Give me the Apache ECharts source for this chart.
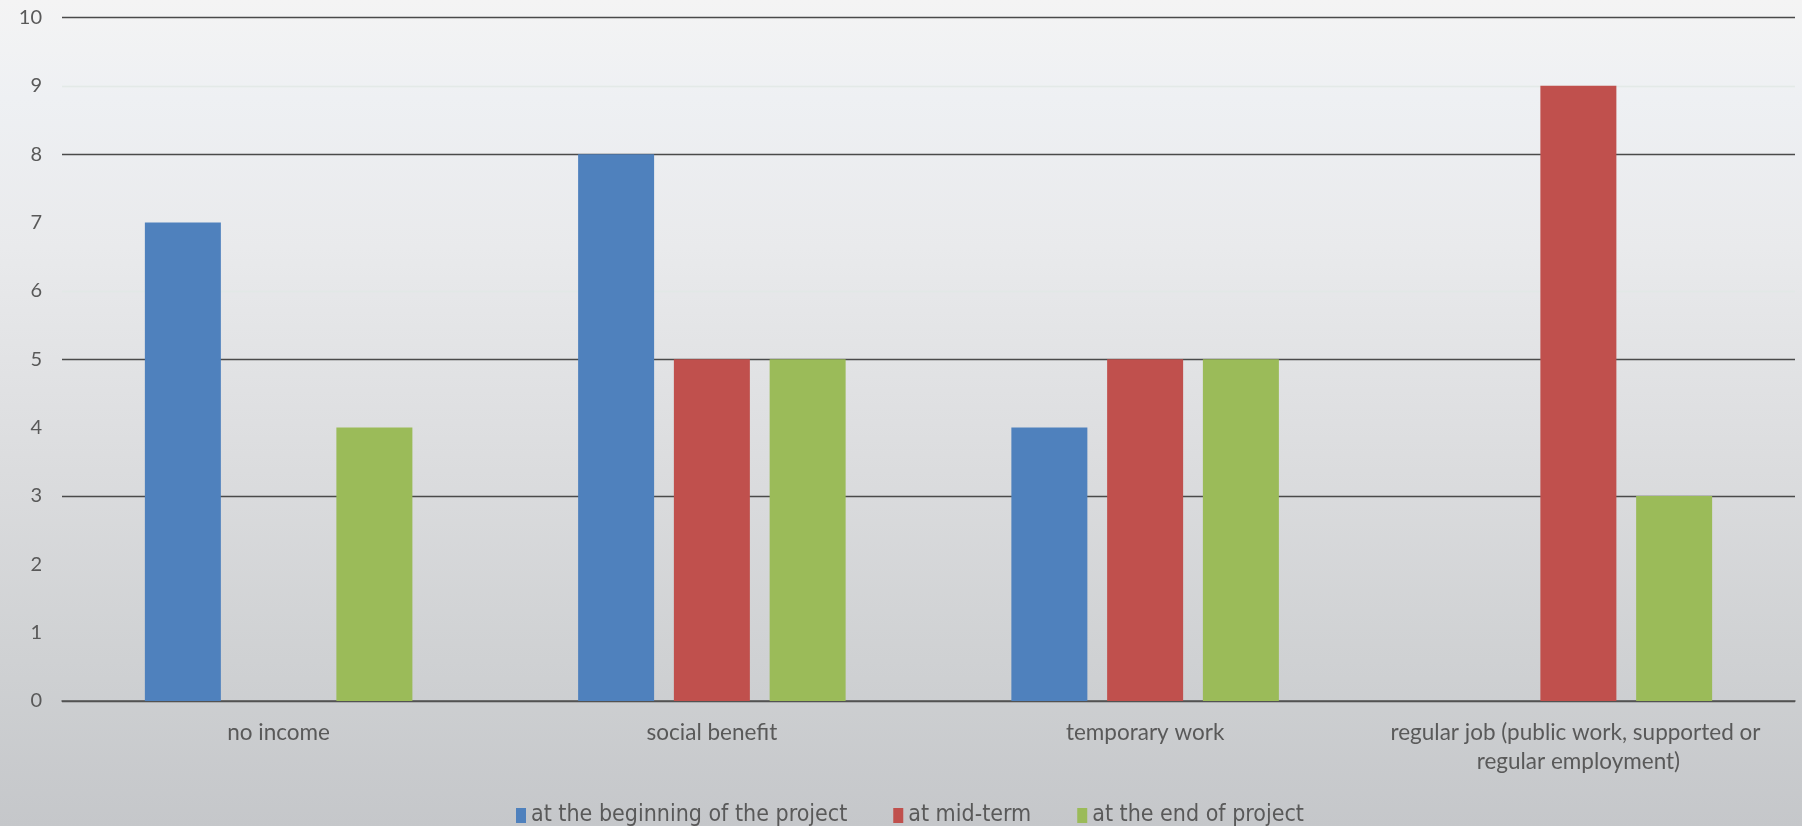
<!DOCTYPE html>
<html>
<head>
<meta charset="utf-8">
<style>
html,body{margin:0;padding:0;background:#e6e7e9;}
#chart{width:1802px;height:826px;}
</style>
<script src="https://cdn.jsdelivr.net/npm/echarts@6/dist/echarts.min.js"></script>
</head>
<body>
<div id="chart"></div>
<script>
const categories = ['no income', 'social benefit', 'temporary work', 'regular job (public work, supported or regular employment)'];
const seriesNames = ['at the beginning of the project', 'at mid-term', 'at the end of project'];
const beginning = [7, 8, 4, null];
const midTerm = [null, 5, 5, 9];
const endOfProject = [4, 5, 5, 3];
const yTicks = [0, 1, 2, 3, 4, 5, 6, 7, 8, 9, 10];

const colors = ['#4F81BD', '#C0504D', '#9BBB59'];
const dark = '#4a4a4a', faint = 'rgba(225,232,230,0.9)', none = 'rgba(0,0,0,0)';
// per-gridline appearance as seen in the reference (index = tick value)
const gridColors = [dark, none, none, dark, none, dark, faint, none, dark, faint, dark];

const chart = echarts.init(document.getElementById('chart'));
const font = 'Lato, "Open Sans", sans-serif';
chart.setOption({
  backgroundColor: {
    type: 'linear', x: 0, y: 0, x2: 0, y2: 1,
    colorStops: [
      {offset: 0, color: '#f4f4f4'},
      {offset: 0.12, color: '#eef0f3'},
      {offset: 0.3, color: '#e9eaec'},
      {offset: 0.55, color: '#dcdddf'},
      {offset: 0.8, color: '#cfd1d3'},
      {offset: 1, color: '#c5c7ca'}
    ]
  },
  animation: false,
  color: colors,
  grid: {left: 62, right: 7, top: 17.5, bottom: 125, containLabel: false},
  legend: {
    data: seriesNames,
    left: 511, top: 799,
    itemWidth: 10, itemHeight: 15, itemGap: 46,
    icon: 'rect',
    textStyle: {color: '#595959', fontSize: 23, fontFamily: '"Liberation Sans Narrow", "DejaVu Sans Condensed", sans-serif'}
  },
  xAxis: {
    type: 'category',
    data: categories,
    axisLine: {lineStyle: {color: '#555', width: 1.5}},
    axisTick: {show: false},
    axisLabel: {
      color: '#595959', fontSize: 22.5, fontFamily: font, margin: 17,
      lineHeight: 29, width: 410, overflow: 'break', interval: 0
    }
  },
  yAxis: {
    type: 'value',
    min: 0, max: 10, interval: 1,
    axisLine: {show: false},
    axisTick: {show: false},
    axisLabel: {color: '#595959', fontSize: 20, fontFamily: font, margin: 20,
      formatter: v => yTicks.includes(v) ? String(v) : ''},
    splitLine: {lineStyle: {color: gridColors, width: 1.3}}
  },
  series: [
    {name: seriesNames[0], type: 'bar', data: beginning, barWidth: 76, barGap: '26%'},
    {name: seriesNames[1], type: 'bar', data: midTerm, barWidth: 76, barGap: '26%'},
    {name: seriesNames[2], type: 'bar', data: endOfProject, barWidth: 76, barGap: '26%'}
  ]
});
</script>
</body>
</html>
